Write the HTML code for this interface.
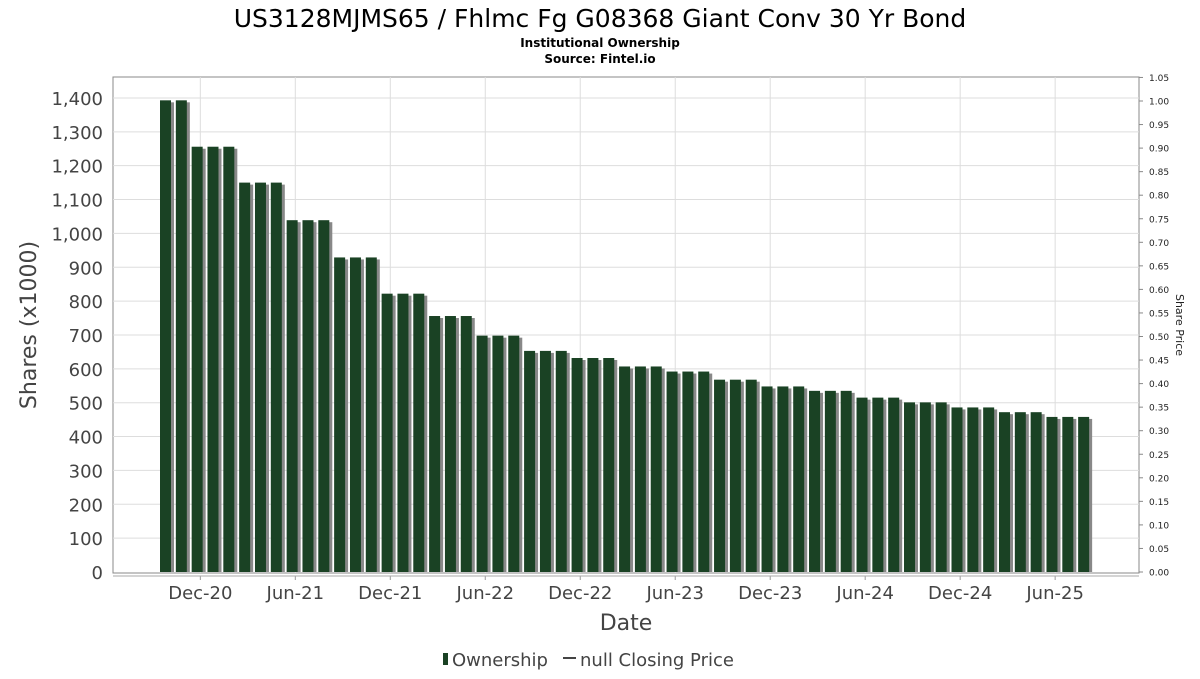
<!DOCTYPE html>
<html><head><meta charset="utf-8"><style>
body{margin:0;background:#fff;font-family:"DejaVu Sans","Liberation Sans",sans-serif}
</style></head><body>
<svg id="c" width="1200" height="675" xmlns="http://www.w3.org/2000/svg">
<text x="600" y="27" text-anchor="middle" font-size="25" fill="#000">US3128MJMS65 / Fhlmc Fg G08368 Giant Conv 30 Yr Bond</text>
<text x="600" y="47" text-anchor="middle" font-size="12" font-weight="bold">Institutional Ownership</text>
<text x="600" y="63" text-anchor="middle" font-size="12" font-weight="bold">Source: Fintel.io</text>
<rect x="113" y="77" width="1026" height="496" fill="#fff" stroke="#888"/>
<g id="grid"></g><g id="bars"></g><g id="axes"></g>
<text transform="translate(36,325) rotate(-90)" text-anchor="middle" font-size="22" fill="#444">Shares (x1000)</text>
<text transform="translate(1176,325) rotate(90)" text-anchor="middle" font-size="11" fill="#222">Share Price</text>
<text x="626" y="630" text-anchor="middle" font-size="22" fill="#444">Date</text>
<g>
<rect x="443" y="653" width="5" height="12" fill="#1a4224"/>
<text x="452" y="666" font-size="18" fill="#444">Ownership</text>
<line x1="563" y1="658" x2="576" y2="658" stroke="#444" stroke-width="2"/>
<text x="580" y="666" font-size="18" fill="#444">null Closing Price</text>
</g>
</svg>
<script>
const values=[1393,1393,1256,1256,1256,1150,1150,1150,1039,1039,1039,929,929,929,822,822,822,756,756,756,698,698,698,653,653,653,632,632,632,607,607,607,592,592,592,568,568,568,548,548,548,535,535,535,515,515,515,501,501,501,486,486,486,472,472,472,458,458,458];
const yTicks=[0,100,200,300,400,500,600,700,800,900,1000,1100,1200,1300,1400];
const y2Ticks=["0.00","0.05","0.10","0.15","0.20","0.25","0.30","0.35","0.40","0.45","0.50","0.55","0.60","0.65","0.70","0.75","0.80","0.85","0.90","0.95","1.00","1.05"];
const xLabels=["Dec-20","Jun-21","Dec-21","Jun-22","Dec-22","Jun-23","Dec-23","Jun-24","Dec-24","Jun-25"];
const xLabelPos=[2.2,8.2,14.2,20.2,26.2,32.2,38.2,44.2,50.2,56.2];
const NS="http://www.w3.org/2000/svg";
const y=v=>572-v*0.3386;
const y2=v=>572-v*471/1.0;
const x=i=>165.5+i*15.83;
function mk(t,a,p){const e=document.createElementNS(NS,t);for(const k in a)e.setAttribute(k,a[k]);document.getElementById(p).appendChild(e);return e;}
yTicks.forEach(v=>{
 if(v>0){const g=mk('line',{x1:113,x2:1139,y1:y(v),y2:y(v),stroke:'#ddd'},'grid');
 
 }
 const t=mk('text',{x:103,y:y(v)+7,'text-anchor':'end','font-size':18,fill:'#444'},'axes');
 t.textContent=v.toLocaleString('en-US');
 
 
});
y2Ticks.forEach(s=>{
 const v=parseFloat(s);
 const l=mk('line',{x1:1139,x2:1143,y1:y2(v),y2:y2(v),stroke:'#888'},'axes');
 
 
 const t=mk('text',{x:1149,y:y2(v)+3.5,'font-size':9,fill:'#222'},'axes');
 t.textContent=s;
 
 
});
xLabels.forEach((s,k)=>{
 const px=x(xLabelPos[k]);
 const g=mk('line',{x1:px,x2:px,y1:77,y2:573,stroke:'#ddd'},'grid');
 
 
 const tk=mk('line',{x1:px,x2:px,y1:576,y2:580,stroke:'#999'},'axes');
 
 
 const t=mk('text',{x:px,y:599,'text-anchor':'middle','font-size':18,fill:'#444'},'axes');
 t.textContent=s;
 
 
});
const ax=mk('line',{x1:113,x2:1139,y1:576,y2:576,stroke:'#aaa'},'axes');


values.forEach((v,i)=>{
 const bx=x(i)-5.5;
 const s=mk('rect',{x:bx+3,y:y(v)+2,width:11,height:572-y(v)-2,fill:'#888'},'bars');
 
 
 const b=mk('rect',{x:bx,y:y(v),width:11,height:572-y(v),fill:'#1a4224'},'bars');
 
 
});
</script>
</body></html>
